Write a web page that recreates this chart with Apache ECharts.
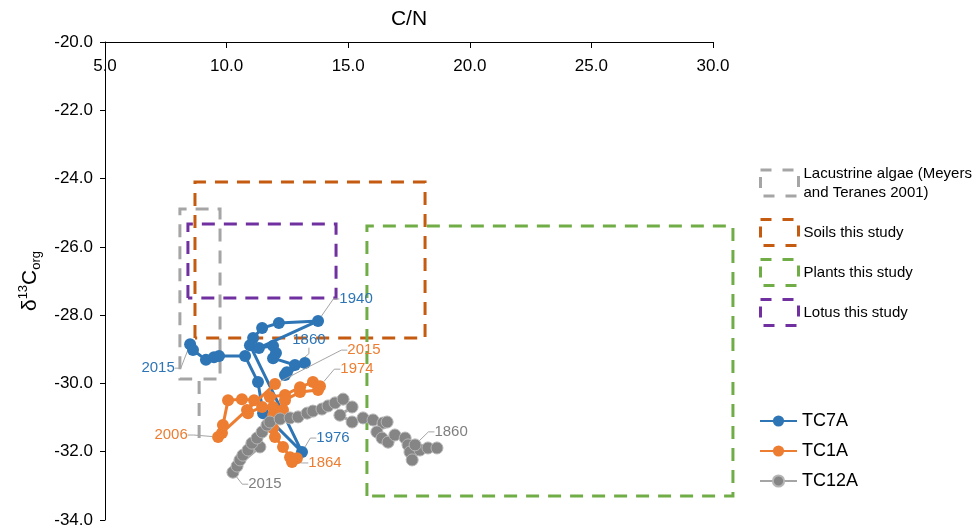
<!DOCTYPE html>
<html>
<head>
<meta charset="utf-8">
<script src="https://cdn.jsdelivr.net/npm/echarts@6/dist/echarts.min.js"></script>
<style>
html,body{margin:0;padding:0;background:#fff;}
#chart{width:974px;height:529px;}
</style>
</head>
<body>
<div id="chart"></div>
<script>
// ---------- DATA ----------
const xAxisName = 'C/N';
const seriesNames = ['TC7A', 'TC1A', 'TC12A'];

// TC7A  [C/N, d13C]
const tc7aCN  = [8.50, 8.62, 9.15, 9.48, 9.69, 10.76, 11.29, 11.50, 13.10, 10.96, 11.09, 11.46, 12.15, 13.76, 11.33, 11.91, 12.03, 11.91, 12.81, 13.22, 12.40, 12.48];
const tc7aD13 = [-28.85, -29.02, -29.31, -29.23, -29.20, -29.20, -29.96, -30.87, -32.01, -28.88, -28.67, -28.38, -28.23, -28.17, -28.96, -28.90, -29.11, -29.26, -29.46, -29.40, -29.75, -29.67];
const tc7aLabelIdx  = [0, 8, 13, 21];
const tc7aLabelText = ['2015', '1976', '1940', '1860'];

// TC1A
const tc1aCN  = [11.99, 9.81, 9.65, 9.85, 10.06, 10.63, 11.13, 10.84, 10.88, 11.46, 11.91, 11.78, 12.40, 13.02, 13.55, 13.84, 13.76, 13.02, 12.40, 12.32, 11.91, 11.91, 11.99, 12.32, 12.61, 12.89, 12.69];
const tc1aD13 = [-30.02, -31.45, -31.57, -31.22, -30.49, -30.46, -30.49, -30.78, -30.87, -30.69, -30.69, -30.40, -30.34, -30.11, -29.96, -30.08, -30.19, -30.25, -30.49, -30.78, -30.93, -31.31, -31.57, -31.86, -32.16, -32.19, -32.30];
const tc1aLabelIdx  = [0, 2, 15, 26];
const tc1aLabelText = ['2015', '2006', '1974', '1864'];

// TC12A
const tc12aCN  = [10.26, 10.43, 11.37, 10.55, 10.67, 10.88, 11.04, 11.25, 11.46, 11.66, 11.78, 12.20, 12.61, 12.94, 13.31, 13.55, 13.92, 14.17, 14.46, 14.79, 15.16, 14.66, 15.16, 15.61, 16.02, 16.43, 16.60, 16.18, 16.39, 16.64, 16.92, 17.34, 17.46, 17.54, 17.63, 17.95, 18.28, 18.65, 17.75];
const tc12aD13 = [-32.60, -32.42, -31.86, -32.24, -32.10, -31.95, -31.75, -31.60, -31.42, -31.22, -31.13, -31.04, -31.01, -30.98, -30.87, -30.81, -30.75, -30.66, -30.57, -30.46, -30.69, -30.93, -31.13, -31.01, -31.07, -31.16, -31.13, -31.42, -31.60, -31.72, -31.51, -31.60, -31.80, -32.01, -32.24, -31.95, -31.89, -31.89, -31.80];
const tc12aLabelIdx  = [0, 38];
const tc12aLabelText = ['2015', '1860'];

// Reference boxes  [min, max]
const boxNames = ['Lacustrine algae (Meyers and Teranes 2001)', 'Soils this study', 'Plants this study', 'Lotus this study'];
const lacustrineCN  = [8.08, 9.73];
const lacustrineD13 = [-29.87, -24.89];
const lacustrineTailCN = 8.87;
const lacustrineTailD13 = -31.60;
const soilsCN  = [8.70, 18.16];
const soilsD13 = [-28.67, -24.10];
const plantsCN  = [15.77, 30.82];
const plantsD13 = [-33.30, -25.39];
const lotusCN  = [8.41, 14.50];
const lotusD13 = [-27.50, -25.33];

// ---------- STYLE ----------
const FONT = '"Liberation Sans", Arial, Helvetica, sans-serif';
const seriesColors = ['#2E75B6', '#ED7D31', '#A5A5A5'];
const markerColors = ['#2E75B6', '#ED7D31', '#858585'];
const labelColors = ['#2E75B6', '#ED7D31', '#7F7F7F'];
const boxColors = ['#A5A5A5', '#C55A11', '#70AD47', '#7030A0'];
const labelOffsets = [
  [[-32, 24], [31, -14], [38, -22], [22, -32]],
  [[89, -34], [-47, -2], [37, -17], [33, 1]],
  [[32, 12], [36, -13]]
];

function rectPath(xs, ys) {
  return [[xs[0], ys[0]], [xs[0], ys[1]], [xs[1], ys[1]], [xs[1], ys[0]], [xs[0], ys[0]]];
}
const lacPath = [
  [lacustrineTailCN, lacustrineTailD13],
  [lacustrineTailCN, lacustrineD13[0]],
  [lacustrineCN[0], lacustrineD13[0]],
  [lacustrineCN[0], lacustrineD13[1]],
  [lacustrineCN[1], lacustrineD13[1]],
  [lacustrineCN[1], lacustrineD13[0]],
  [lacustrineTailCN, lacustrineD13[0]]
];
const boxPaths = [lacPath, rectPath(soilsCN, soilsD13), rectPath(plantsCN, plantsD13), rectPath(lotusCN, lotusD13)];

const boxSeries = boxPaths.map((path, i) => ({
  name: boxNames[i],
  type: 'custom',
  clip: false,
  silent: true,
  z: 1,
  data: [path[0]],
  itemStyle: { color: boxColors[i] },
  renderItem: function (params, api) {
    const pts = path.map(p => api.coord(p));
    return {
      type: 'polyline',
      shape: { points: pts },
      style: { stroke: boxColors[i], lineWidth: 3, lineDash: [13, 9], fill: null }
    };
  },
  animation: false
}));

function makeData(xs, ys, idx, texts, si) {
  return xs.map((x, i) => {
    const k = idx.indexOf(i);
    if (k < 0) return [x, ys[i]];
    return {
      value: [x, ys[i]],
      label: {
        show: true, formatter: texts[k], position: 'inside',
        color: labelColors[si], fontSize: 15, fontFamily: FONT
      },
      labelLine: { show: true, length2: 6, lineStyle: { color: '#A5A5A5', width: 1 } }
    };
  });
}

const dataSets = [
  makeData(tc7aCN, tc7aD13, tc7aLabelIdx, tc7aLabelText, 0),
  makeData(tc1aCN, tc1aD13, tc1aLabelIdx, tc1aLabelText, 1),
  makeData(tc12aCN, tc12aD13, tc12aLabelIdx, tc12aLabelText, 2)
];
const labelIdxs = [tc7aLabelIdx, tc1aLabelIdx, tc12aLabelIdx];

const dataSeries = dataSets.map((d, i) => ({
  name: seriesNames[i],
  type: 'line',
  data: d,
  symbol: 'circle',
  symbolSize: 12,
  z: 3 + i,
  lineStyle: { color: seriesColors[i], width: 3 },
  itemStyle: i === 2 ? { color: markerColors[i], borderColor: '#b5b5b5', borderWidth: 1 } : { color: markerColors[i] },
  labelLayout: function (params) {
    const k = labelIdxs[i].indexOf(params.dataIndex);
    if (k < 0) return {};
    const o = labelOffsets[i][k];
    return { dx: o[0], dy: o[1] };
  },
  animation: false
}));

const boxLegendItem = (n, i) => ({
  name: n, icon: 'rect',
  itemStyle: { color: 'rgba(0,0,0,0)', borderColor: boxColors[i], borderWidth: 3, borderType: [11, 11] }
});
const boxLegendBase = {
  orient: 'vertical', left: 754,
  itemWidth: 38, itemHeight: 26,
  selectedMode: false,
  textStyle: { fontSize: 15, color: '#000', fontFamily: FONT, lineHeight: 19 },
  formatter: n => n.replace('(Meyers ', '(Meyers\n')
};

const chart = echarts.init(document.getElementById('chart'), null, { renderer: 'canvas' });
chart.setOption({
  backgroundColor: '#fff',
  animation: false,
  textStyle: { fontFamily: FONT },
  grid: { left: 105, right: 261, top: 42, bottom: 9, containLabel: false },
  xAxis: {
    type: 'value', position: 'top', min: 5, max: 30, interval: 5,
    name: xAxisName, nameLocation: 'middle', nameGap: 12,
    nameTextStyle: { fontSize: 21, color: '#000', fontFamily: FONT, verticalAlign: 'bottom' },
    axisLine: { show: true, onZero: false, lineStyle: { color: '#000', width: 1 } },
    axisTick: { show: true, inside: true, length: 6, lineStyle: { color: '#000' } },
    axisLabel: { inside: true, margin: 16, fontSize: 17, color: '#000', fontFamily: FONT, formatter: v => v.toFixed(1) },
    splitLine: { show: false }
  },
  yAxis: {
    type: 'value', min: -34, max: -20, interval: 2,
    name: '{m|δ}{sup|13}{m|C}{sub|org}', nameLocation: 'middle', nameGap: 60, nameRotate: 90,
    nameTextStyle: {
      color: '#000', fontFamily: FONT,
      rich: {
        m: { fontSize: 21, color: '#000', fontFamily: FONT, lineHeight: 26 },
        sup: { fontSize: 13, color: '#000', fontFamily: FONT, verticalAlign: 'top', lineHeight: 26, padding: [0, 0, 8, 0] },
        sub: { fontSize: 13, color: '#000', fontFamily: FONT, verticalAlign: 'bottom', lineHeight: 26, padding: [8, 0, 0, 0] }
      }
    },
    axisLine: { show: true, onZero: false, lineStyle: { color: '#000', width: 1 } },
    axisTick: { show: true, length: 5, lineStyle: { color: '#000' } },
    axisLabel: { margin: 12, fontSize: 17, color: '#000', fontFamily: FONT, formatter: v => v.toFixed(1) },
    splitLine: { show: false }
  },
  legend: [
    Object.assign({}, boxLegendBase, { top: 159, data: [boxLegendItem(boxNames[0], 0)] }),
    Object.assign({}, boxLegendBase, { top: 213, itemGap: 11, data: boxNames.slice(1).map((n, j) => boxLegendItem(n, j + 1)) }),
    {
      orient: 'vertical', left: 754, top: 407, itemGap: 12,
      itemWidth: 37, itemHeight: 14,
      selectedMode: false,
      textStyle: { fontSize: 18, color: '#000', fontFamily: FONT },
      data: seriesNames
    }
  ],
  series: boxSeries.concat(dataSeries)
});
</script>
</body>
</html>
